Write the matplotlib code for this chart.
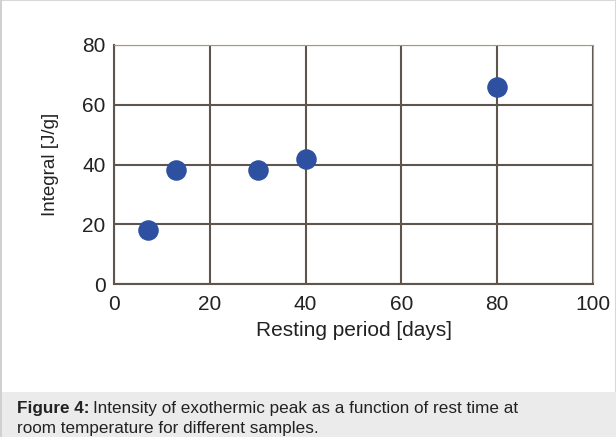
import matplotlib.pyplot as plt
from matplotlib.patches import Rectangle

# データ
resting_days = [7, 13, 30, 40, 80]
integral = [18, 38, 38, 42, 66]
x_ticks = [0, 20, 40, 60, 80, 100]
y_ticks = [0, 20, 40, 60, 80]

plt.rcParams['font.family'] = ['Liberation Sans', 'DejaVu Sans']

W, H = 616, 437
fig = plt.figure(figsize=(W / 100, H / 100), dpi=100)

# 外枠とキャプション領域
fig.patches.append(Rectangle((0, 0), 1, 1, transform=fig.transFigure,
                             facecolor='white', edgecolor='#d8d8d8', lw=1.5,
                             zorder=-10))
fig.patches.append(Rectangle((0, 0), 1, 45 / H, transform=fig.transFigure,
                             facecolor='#ebebeb', edgecolor='none', zorder=-9))
fig.patches.append(Rectangle((0, 0), 2 / W, 1, transform=fig.transFigure,
                             facecolor='#d0d0d0', edgecolor='none', zorder=-8))

ax = fig.add_axes([114 / W, 1 - 284 / H, 479 / W, 239 / H])
ax.set_xlim(0, 100)
ax.set_ylim(0, 80)
ax.set_xticks(x_ticks)
ax.set_yticks(y_ticks)
ax.grid(True, color='#5e554e', lw=1.5)
ax.set_axisbelow(True)
ax.tick_params(length=0, labelsize=15, colors='#222222')
ax.tick_params(axis='x', pad=8)
ax.tick_params(axis='y', pad=6)
for side in ['left', 'bottom']:
    ax.spines[side].set_color('#5e554e')
    ax.spines[side].set_linewidth(1.5)
ax.spines['top'].set_color('#a89a6a')
ax.spines['right'].set_color('#a8a09a')

ax.scatter(resting_days, integral, s=190, c='#2e50a0', zorder=3, clip_on=False)

ax.set_xlabel('Resting period [days]', fontsize=15, labelpad=5, color='#222222')
ax.set_ylabel('Integral [J/g]', fontsize=13.5, labelpad=17, color='#222222')

# キャプション
t1 = fig.text(17 / W, 1 - 413 / H, 'Figure 4:', fontsize=12.3, va='baseline',
              weight='bold', color='#222222')
fig.canvas.draw()
bb = t1.get_window_extent()
fig.text((bb.x1 + 4) / W, 1 - 413 / H,
         'Intensity of exothermic peak as a function of rest time at',
         fontsize=12.3, va='baseline', color='#222222')
fig.text(17 / W, 1 - 433 / H,
         'room temperature for different samples.',
         fontsize=12.3, va='baseline', color='#222222')

plt.savefig('out.png', dpi=100)
